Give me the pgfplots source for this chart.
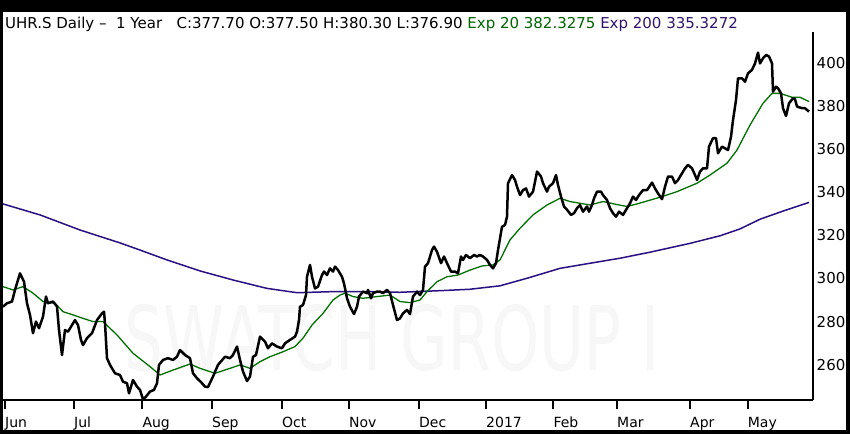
\documentclass[border=0pt]{standalone}
\usepackage{pgfplots}
\pgfplotsset{compat=1.18}
\usepackage{fontspec}
\setmainfont{DejaVu Sans}
\definecolor{emagreen}{RGB}{0,112,0}
\definecolor{emapurple}{RGB}{42,16,130}
\definecolor{titlegreen}{RGB}{0,100,0}
\definecolor{titlepurple}{RGB}{50,20,110}
\begin{document}
\begin{tikzpicture}
\begin{axis}[set layers, clip=false, scale only axis,
  width=809.5pt, height=368pt,
  xmin=3, xmax=812.5, ymin=243.62, ymax=414.39,
  axis x line*=bottom, axis y line*=right,
  axis line style={line width=2pt, -},
  xtick={5,74,142.3,212,282,349,419,486,553.3,617,690,747.7},
  xticklabels={Jun,Jul,Aug,Sep,Oct,Nov,Dec,2017,Feb,Mar,Apr,May},
  tick align=outside, major tick length=9pt,
  x tick style={line width=2pt, black},
  y tick style={draw=none},
  ytick={260,280,300,320,340,360,380,400},
  xticklabel style={anchor=north west, inner sep=0pt, yshift=-8pt, font=\fontsize{14}{16}\selectfont},
  yticklabel style={anchor=west, inner sep=0pt, xshift=-5pt, font=\fontsize{15}{17}\selectfont},
  /pgf/number format/assume math mode=true,
  /pgf/number format/1000 sep={},
]
\begin{pgfonlayer}{axis background}
\fill[black] (axis cs:0,227.84) rectangle (axis cs:850,429.23);
\fill[white] (axis cs:3,229.70) rectangle (axis cs:846,423.67);
\node[text=gray!6, font=\fontsize{89}{90}\selectfont, xscale=0.69] at (axis cs:392,272.4) {SWATCH GROUP I};
\end{pgfonlayer}
\node[anchor=base west, inner sep=0pt, font=\fontsize{15}{18}\selectfont] at (axis cs:5,415.78) {UHR.S Daily –\ \ 1 Year\ \ \ C:377.70 O:377.50 H:380.30 L:376.90 \textcolor{titlegreen}{Exp 20 382.3275} \textcolor{titlepurple}{Exp 200 335.3272}};
\addplot[emapurple, line width=1.5pt, line join=round] coordinates {
(3,334.6)(40,329.5)(80,322.5)(120,316.5)(140,313.2)(167,308.6)(200,303.5)(233,299.3)(267,295.4)(297,293.4)(333,293.9)(367,293.9)(400,293.6)(443,294.4)(470,295)(500,296.6)(527,300.1)(560,304.7)(593,307.3)(620,309.4)(650,312.2)(690,316.3)(720,319.8)(740,323.0)(760,327.5)(785,331.6)(809,335.3)
};
\addplot[emagreen, line width=1.3pt, line join=round] coordinates {
(3,296.2)(13,294.7)(23,296.2)(33,293.2)(43,289.3)(55,288.5)(63,284.6)(73,283.1)(83,281.5)(93,280.0)(103,280.0)(117,273.8)(133,265.3)(150,259.1)(160,255.2)(173,257.5)(190,260.3)(200,258.3)(215,256.0)(230,258.3)(240,259.9)(250,258.3)(260,261.4)(270,263.7)(283,266.0)(295,268.4)(303,272.3)(312,278.4)(323,283.8)(333,290.0)(340,292.3)(345,293.2)(353,291.6)(363,290.8)(377,291.6)(390,292.3)(400,289.3)(410,288.8)(420,290.0)(427,293.9)(437,298.5)(447,300.8)(458,301.6)(470,303.9)(482,305.8)(493,306.3)(500,308.6)(510,317.9)(520,323.3)(533,329.5)(547,334.1)(560,337.2)(570,335.7)(590,334.1)(603,335.7)(615,334.5)(627,333.4)(637,334.6)(660,337.7)(677,340.3)(697,344.2)(710,348.0)(727,353.5)(737,359.6)(750,371.2)(763,381.3)(772,385.9)(780,385.9)(792,384.1)(800,384.1)(809,382.1)
};
\addplot[black, line width=2.5pt, line join=round] coordinates {
(3,286.9)(7,288.5)(12,289.3)(15,294.7)(20,302.4)(24,298.5)(27,288.5)(30,283.1)(33,274.6)(36,280.0)(39,276.9)(43,282.3)(46,291.6)(48,288.5)(53,289.3)(57,287.0)(59,276.1)(62,264.5)(65,276.1)(68,275.3)(72,278.4)(75,280.7)(78,278.4)(81,271.5)(83,269.1)(87,272.3)(92,274.6)(97,280.7)(102,283.8)(104,284.6)(105,279.2)(107,263.0)(110,259.9)(115,256.0)(120,255.2)(123,252.1)(127,251.4)(129,246.7)(133,252.9)(137,249.8)(140,248.3)(143,243.9)(146,245.2)(150,247.5)(154,248.3)(157,251.4)(159,259.9)(163,262.2)(168,263.0)(173,262.2)(177,263.7)(180,266.8)(185,264.5)(190,263.0)(193,256.0)(197,253.7)(202,251.4)(205,249.8)(208,249.6)
(213,254.5)(218,259.9)(225,263.7)(230,263.0)(233,264.5)(237,268.4)(240,262.2)(243,256.8)(247,252.4)(250,254.5)(253,263.7)(256,264.5)(260,273.0)(265,270.7)(268,267.6)(272,269.9)(277,268.4)(282,267.6)(285,269.9)(290,271.5)(295,273.0)(297,275.3)(299,280.7)(300,286.9)(303,287.7)(306,292.3)(307,300.8)(310,306.3)(312,300.8)(315,295.4)(318,296.2)(322,301.6)(324,303.2)(327,301.6)(330,304.7)(333,303.2)(335,305.5)(338,303.9)(342,300.8)(344,297.7)(347,290.8)(350,286.9)(354,283.5)(357,286.9)(359,291.6)(363,293.9)(367,293.2)(368,294.7)(371,290.8)(373,293.2)(377,293.9)(380,293.9)(383,293.2)(387,294.7)(390,293.2)(393,287.7)(397,280.7)(400,281.5)(403,283.8)(407,285.4)(410,283.5)
(413,291.6)(417,293.9)(420,292.3)(423,294.7)(425,305.5)(428,307.1)(432,313.2)(434,314.8)(437,312.4)(441,307.1)(444,310.2)(447,307.1)(451,303.2)(455,303.2)(458,302.4)(461,310.2)(463,308.6)(466,310.9)(470,309.4)(474,310.9)(477,310.2)(480,310.9)(483,310.2)(487,308.6)(490,306.3)(493,304.7)(496,307.1)(498,313.2)(502,324.0)(505,324.8)(507,328.7)(508,344.2)(512,348.0)(515,345.7)(517,342.6)(520,338.7)(523,341.0)(526,341.8)(529,338.0)(533,340.3)(535,344.9)(537,349.6)(541,347.3)(543,344.2)(547,340.3)(549,342.6)(553,344.2)(556,348.0)(558,343.4)(561,338.0)(564,333.4)(567,331.9)(571,329.5)(574,330.3)(577,332.6)(580,334.1)(583,331.0)(587,333.4)(589,331.0)(592,334.1)(594,337.2)(597,340.3)(601,340.3)(603,338.7)(607,336.4)(610,332.6)
(613,330.3)(616,328.7)(619,331.0)(623,329.5)(627,332.6)(630,334.9)(633,338.0)(636,336.4)(639,338.7)(643,341.0)(647,341.0)(652,344.5)(655,341.8)(658,339.5)(662,336.8)(665,342.6)(668,347.3)(672,347.3)(675,344.2)(678,345.7)(682,348.8)(685,351.1)(688,352.7)(692,351.1)(695,348.0)(697,345.7)(700,349.6)(703,351.1)(707,351.1)(709,361.2)(713,365.1)(716,365.1)(718,358.1)(722,361.2)(725,360.4)(728,359.6)(731,365.8)(733,373.5)(736,382.8)(738,392.9)(742,392.9)(745,391.3)(748,395.2)(752,396.8)(755,399.8)(758,404.8)(760,399.8)(763,402.2)(766,403.7)(769,403.0)(772,399.8)(773,386.7)(776,389.0)(778,388.3)(781,385.9)(783,379.0)(786,375.4)(789,381.3)(793,383.6)(795,383.2)(797,379.8)(802,379.0)(805,379.0)(809,377.4)
};
\end{axis}
\end{tikzpicture}
\end{document}
